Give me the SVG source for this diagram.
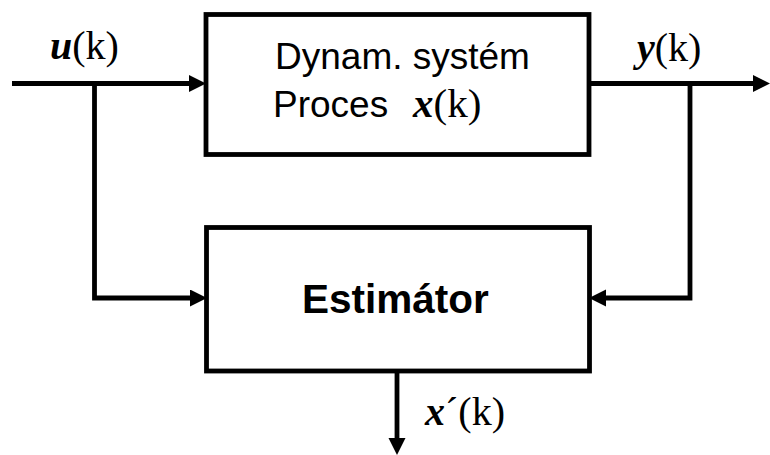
<svg xmlns="http://www.w3.org/2000/svg" width="770" height="455" viewBox="0 0 770 455">
  <style>
    .box { fill: #ffffff; stroke: #000000; stroke-width: 4.8; }
    .wire { fill: none; stroke: #000000; stroke-width: 4.8; stroke-linejoin: miter; stroke-linecap: butt; }
    .sans { font-family: "Liberation Sans", Arial, sans-serif; fill: #000000; }
    .math { font-family: "Liberation Serif", "Times New Roman", serif; fill: #000000; }
    .var { font-weight: bold; font-style: italic; }
  </style>
  <defs>
    <marker id="arrow" markerUnits="userSpaceOnUse" markerWidth="18" markerHeight="18" refX="7" refY="8.5" orient="auto">
      <path d="M0,0 L17,8.5 L0,17 Z" fill="#000000"/>
    </marker>
  </defs>

  <rect width="770" height="455" fill="#ffffff"/>

  <!-- signal lines -->
  <g id="connectors">
    <!-- input u(k) into the process -->
    <path class="wire" d="M12,83.5 L196,83.5" marker-end="url(#arrow)"/>
    <!-- branch of u(k) down into the estimator -->
    <path class="wire" d="M94.5,83.5 L94.5,298 L197,298" marker-end="url(#arrow)"/>
    <!-- output y(k) -->
    <path class="wire" d="M589,83.5 L760,83.5" marker-end="url(#arrow)"/>
    <!-- branch of y(k) back into the estimator -->
    <path class="wire" d="M690,83.5 L690,298 L599,298" marker-end="url(#arrow)"/>
    <!-- estimate x'(k) out of the estimator -->
    <path class="wire" d="M397,371 L397,445" marker-end="url(#arrow)"/>
  </g>

  <g id="process">
    <rect class="box" x="206" y="14.5" width="383" height="140"/>
    <text class="sans" x="275" y="69" font-size="37">Dynam. systém</text>
    <text class="sans" x="273" y="117" font-size="37">Proces</text>
    <text class="math" x="413" y="117" font-size="41"><tspan class="var">x</tspan>(k)</text>
  </g>

  <g id="estimator">
    <rect class="box" x="206.5" y="227.5" width="383" height="143.5"/>
    <text class="sans" x="302" y="313" font-size="40.5" font-weight="bold">Estimátor</text>
  </g>

  <g id="labels">
    <text id="label-u" class="math" x="50" y="59" font-size="40"><tspan class="var">u</tspan>(k)</text>
    <text id="label-y" class="math" x="637" y="61" font-size="40"><tspan class="var">y</tspan>(k)</text>
    <text id="label-xest" class="math" x="425" y="425" font-size="40"><tspan class="var">x</tspan>´(k)</text>
  </g>
</svg>
